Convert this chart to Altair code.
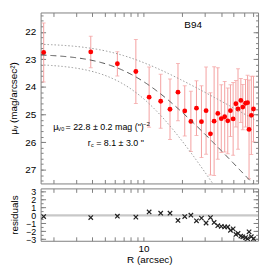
import altair as alt
import numpy as np
import pandas as pd

# ---- data ----
R = [1.69, 3.91, 6.28, 8.73, 11.06, 13.59, 16.04, 18.49, 20.86, 23.27, 25.7, 28.1,
     30.5, 32.98, 35.2, 37.6, 40.0, 42.5, 44.9, 47.1, 49.4, 51.9, 53.9, 56.7, 58.7,
     61.6, 63.9, 65.6, 68.3, 71.0]
mu = [22.75, 22.73, 23.16, 23.44, 24.37, 24.52, 24.81, 24.19, 24.87, 25.25, 24.77,
      25.26, 24.86, 25.70, 25.24, 24.96, 25.15, 25.08, 25.23, 24.86, 25.16, 24.61,
      24.80, 24.49, 24.73, 24.59, 24.57, 25.54, 25.03, 24.80]
err = [1.07, 0.57, 0.44, 1.16, 1.09, 0.98, 1.10, 1.04, 0.91, 1.09, 0.99, 1.30, 1.58,
       1.49, 1.97, 1.66, 1.23, 1.28, 1.19, 0.94, 1.32, 0.84, 1.46, 0.80, 0.82, 0.86,
       0.99, 1.79, 1.42, 1.19]
resid = [-0.15, -0.27, -0.10, -0.22, 0.43, 0.27, 0.27, -0.64, -0.15, 0.02, -0.68,
         -0.35, -0.96, -0.27, -0.89, -1.30, -1.38, -1.46, -1.46, -1.88, -1.70, -2.40,
         -2.28, -2.60, -2.70, -2.80, -2.94, -2.07, -2.69, -2.94]

# model profile parameters (mu0, core radius, slope coefficient)
fit = (22.8, 8.1, 2.5)
fit_hi = (22.42, 6.5, 1.32)
fit_lo = (23.15, 9.0, 3.65)

x_ticks = [2, 3, 4, 5, 6, 7, 8, 9, 10, 20, 30, 40, 50, 60, 70]
y_major = [22, 23, 24, 25, 26, 27]
y_minor = [round(v, 1) for v in np.arange(21.4, 27.5, 0.2)]
r_major = [-3, -2, -1, 0, 1, 2, 3]
r_minor = [-3, -2.5, -2, -1.5, -1, -0.5, 0, 0.5, 1, 1.5, 2, 2.5, 3]

df = pd.DataFrame({"R": R, "mu": mu, "err": err, "resid": resid})
df["lo"] = df["mu"] - df["err"]
df["hi"] = df["mu"] + df["err"]

grid = np.geomspace(1.6, 77, 200)
def prof(p):
    return p[0] + p[2] * np.log10(1 + (grid / p[1]) ** 2)
curves = pd.DataFrame({"R": grid, "fit": prof(fit), "hi": prof(fit_hi), "lo": prof(fit_lo)})

FONT = "Liberation Sans"
AX = "#808080"
W = 220

xscale = alt.Scale(type="log", domain=[1.6, 77], nice=False)
yscale = alt.Scale(domain=[21.3, 27.5], reverse=True, nice=False, zero=False)
rscale = alt.Scale(domain=[-3.2, 3.4], nice=False, zero=False)


def xax(orient, labels=False, title=None, size=4):
    kw = dict(orient=orient, values=x_ticks, domain=False, tickSize=size, offset=-size,
              tickColor=AX, grid=False, labels=labels, title=title)
    if labels:
        kw.update(labelExpr="datum.value == 10 ? '10' : ''", labelPadding=3,
                  labelFontSize=10, titleFontSize=10, titlePadding=1, labelFlush=False)
    return alt.Axis(**kw)


def yax(orient, values, size, labels=False, title=None, fs=10):
    kw = dict(orient=orient, values=values, domain=False, tickSize=size, offset=-size,
              tickColor=AX, grid=False, labels=labels, title=title)
    if labels:
        kw.update(labelPadding=5, labelFontSize=fs, titleFontSize=10, titlePadding=6,
                  labelOverlap=False, labelBound=False)
    return alt.Axis(**kw)


base = alt.Chart(df)
ERR = "#f4a0a0"

errbars = base.mark_rule(color=ERR, strokeWidth=1, clip=True).encode(
    x=alt.X("R:Q", scale=xscale, axis=xax("bottom")),
    y=alt.Y("lo:Q", scale=yscale, axis=yax("left", y_major, 5, True, "μᵥ (mag/arcsec²)")),
    y2="hi:Q",
)
caps = base.transform_fold(["lo", "hi"], as_=["k", "v"]).mark_tick(
    orient="horizontal", size=4, thickness=1, color=ERR, clip=True
).encode(
    x=alt.X("R:Q", scale=xscale, axis=xax("top")),
    y=alt.Y("v:Q", scale=yscale, axis=yax("right", y_major, 5)),
)
points = base.mark_circle(size=24, color="#ff0000", opacity=1).encode(
    x=alt.X("R:Q", scale=xscale, axis=None),
    y=alt.Y("mu:Q", scale=yscale, axis=yax("left", y_minor, 2.5)),
)
cbase = alt.Chart(curves)
dashed = cbase.mark_line(color="#555555", strokeWidth=1, strokeDash=[6, 4], clip=True).encode(
    x=alt.X("R:Q", scale=xscale, axis=None),
    y=alt.Y("fit:Q", scale=yscale, axis=yax("right", y_minor, 2.5)),
)
dot_hi = cbase.mark_line(color="#999999", strokeWidth=1, strokeDash=[1.5, 2], clip=True).encode(
    x=alt.X("R:Q", scale=xscale, axis=None),
    y=alt.Y("hi:Q", scale=yscale, axis=None),
)
dot_lo = cbase.mark_line(color="#999999", strokeWidth=1, strokeDash=[1.5, 2], clip=True).encode(
    x=alt.X("R:Q", scale=xscale, axis=None),
    y=alt.Y("lo:Q", scale=yscale, axis=None),
)

# annotations
ann = pd.DataFrame({"R": [2.0], "mu": [25.46], "R2": [2.0], "mu2": [26.02],
                    "Rb": [24.2], "mub": [21.77]})
abase = alt.Chart(ann)


def txt(text, xf, yf, size=9, dx=0, dy=0, align="left"):
    return abase.mark_text(text=text, font=FONT, fontSize=size, align=align,
                           baseline="middle", dx=dx, dy=dy, color="black").encode(
        x=alt.X(f"{xf}:Q", scale=xscale, axis=None),
        y=alt.Y(f"{yf}:Q", scale=yscale, axis=None),
    )


texts = [
    txt("B94", "Rb", "mub", size=10, align="center"),
    txt("μ", "R", "mu", size=9, dx=0),
    txt("V0", "R", "mu", size=5.5, dx=4.5, dy=2),
    txt("= 22.8 ± 0.2 mag (\")", "R", "mu", size=9, dx=12.5),
    txt("−2", "R", "mu", size=6, dx=91, dy=-3),
    txt("r", "R2", "mu2", size=9, dx=35),
    txt("c", "R2", "mu2", size=5.5, dx=38.2, dy=2),
    txt("= 8.1 ± 3.0 \"", "R2", "mu2", size=9, dx=43.5),
]

main = alt.layer(errbars, caps, points, dashed, dot_hi, dot_lo, *texts).resolve_axis(
    x="independent", y="independent"
).properties(width=W, height=173)

# residual panel
rbase = alt.Chart(df)
zero = alt.Chart(pd.DataFrame({"z": [0]})).mark_rule(color="#c8c8c8", strokeWidth=2.5).encode(
    y=alt.Y("z:Q", scale=rscale, axis=yax("left", r_major, 5, True, "residuals", fs=9)),
)
crosses = rbase.mark_point(shape="M-1,-1L1,1M-1,1L1,-1", filled=False, size=20,
                           color="#222222", strokeWidth=1.2, opacity=1).encode(
    x=alt.X("R:Q", scale=xscale, axis=xax("bottom", True, "R (arcsec)")),
    y=alt.Y("resid:Q", scale=rscale, axis=yax("right", r_major, 5)),
)
ghost1 = rbase.mark_point(opacity=0).encode(
    x=alt.X("R:Q", scale=xscale, axis=xax("top")),
    y=alt.Y("resid:Q", scale=rscale, axis=yax("left", r_minor, 2.5)),
)
ghost2 = rbase.mark_point(opacity=0).encode(
    x=alt.X("R:Q", scale=xscale, axis=None),
    y=alt.Y("resid:Q", scale=rscale, axis=yax("right", r_minor, 2.5)),
)
resid_panel = alt.layer(zero, crosses, ghost1, ghost2).resolve_axis(
    x="independent", y="independent"
).properties(width=W, height=53)

chart = alt.vconcat(main, resid_panel, spacing=2).properties(
    padding={"left": 0, "top": 2, "right": 2, "bottom": 0}
).configure_view(stroke="#808080", strokeWidth=1).configure_axis(
    labelFont=FONT, titleFont=FONT, labelColor="black", titleColor="black",
    titleFontWeight="normal"
)

chart.save("out.html", embed_options={"renderer": "svg", "actions": False})
